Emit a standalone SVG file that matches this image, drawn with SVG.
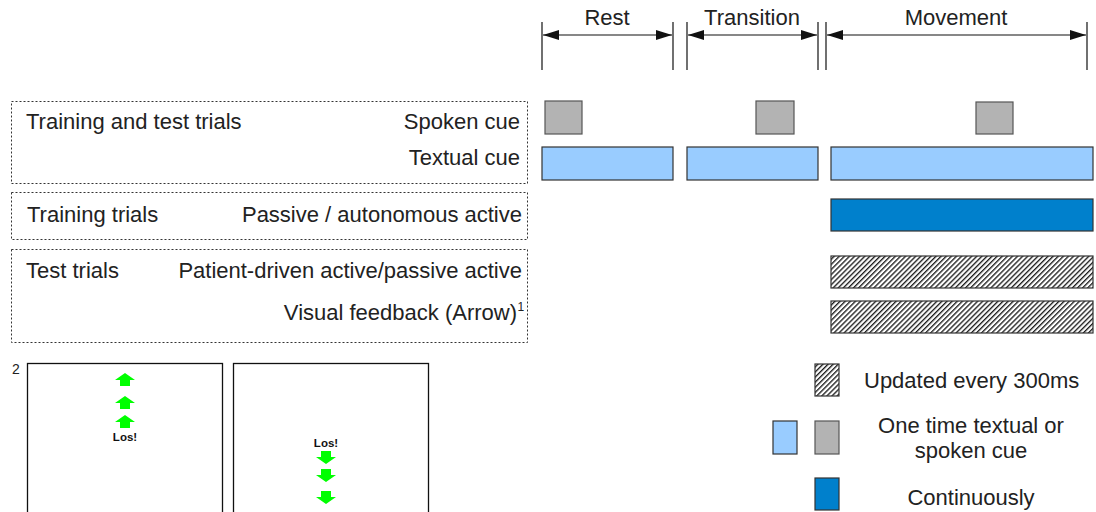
<svg xmlns="http://www.w3.org/2000/svg" width="1096" height="512" viewBox="0 0 1096 512">
<style>
  text { font-family: "Liberation Sans", Arial, sans-serif; font-size: 22px; fill: #222; }
  .r { text-anchor: end; }
  .m { text-anchor: middle; }
  .box { fill: none; stroke: #333; stroke-width: 1; stroke-dasharray: 2 2; }
  .tick { stroke: #111; stroke-width: 1.2; }
  .dim { stroke: #111; stroke-width: 1.2; marker-start: url(#ah); marker-end: url(#ah); }
  .gray { fill: #b3b3b3; stroke: #555; stroke-width: 1.2; }
  .lb { fill: #99ccff; stroke: #333; stroke-width: 1.2; }
  .db { fill: #0080cc; stroke: #333; stroke-width: 1.2; }
  .hat { fill: url(#hatch); stroke: #333; stroke-width: 1.2; }
  .frame { fill: #fff; stroke: #111; stroke-width: 1.3; }
  .grn { fill: #00ff00; }
  .los { font-size: 11.5px; font-weight: bold; fill: #111; text-anchor: middle; }
</style>
<defs>
  <marker id="ah" viewBox="0 0 16 10" refX="16" refY="5" markerWidth="16" markerHeight="10" markerUnits="userSpaceOnUse" orient="auto-start-reverse">
    <path d="M0,0 L16,5 L0,10 Z" fill="#111"/>
  </marker>
  <pattern id="hatch" patternUnits="userSpaceOnUse" width="3.6" height="3.6" patternTransform="rotate(45)">
    <rect width="3.6" height="3.6" fill="#fff"/>
    <line x1="0.7" y1="0" x2="0.7" y2="3.6" stroke="#000" stroke-width="1.2"/>
  </pattern>
  <path id="up" d="M0,0 L10,7 L5,7 L5,13 L-5,13 L-5,7 L-10,7 Z"/>
  <path id="down" d="M0,13 L10,6 L5,6 L5,0 L-5,0 L-5,6 L-10,6 Z"/>
</defs>

<g id="timeline-header">
  <text class="m" x="607" y="24.5">Rest</text>
  <text class="m" x="752" y="24.5">Transition</text>
  <text class="m" x="956" y="24.5">Movement</text>
</g>

<g id="connectors">
  <line class="tick" x1="542" y1="22" x2="542" y2="70"/>
  <line class="tick" x1="673" y1="22" x2="673" y2="70"/>
  <line class="tick" x1="687" y1="22" x2="687" y2="70"/>
  <line class="tick" x1="818" y1="22" x2="818" y2="70"/>
  <line class="tick" x1="826" y1="22" x2="826" y2="70"/>
  <line class="tick" x1="1087" y1="22" x2="1087" y2="70"/>
  <line class="dim" x1="543" y1="35" x2="672" y2="35"/>
  <line class="dim" x1="688" y1="35" x2="817" y2="35"/>
  <line class="dim" x1="827" y1="35" x2="1086" y2="35"/>
</g>

<g id="group-training-and-test">
  <rect class="box" x="11.5" y="101.5" width="516" height="82"/>
  <text x="26" y="128.5">Training and test trials</text>
  <text class="r" x="520" y="128.5">Spoken cue</text>
  <text class="r" x="520" y="164.5">Textual cue</text>
</g>

<g id="group-training">
  <rect class="box" x="11.5" y="192.5" width="516" height="47"/>
  <text x="27" y="221.5">Training trials</text>
  <text class="r" x="522" y="221.5">Passive / autonomous active</text>
</g>

<g id="group-test">
  <rect class="box" x="11.5" y="249.5" width="516" height="93"/>
  <text x="26" y="277.5">Test trials</text>
  <text class="r" x="522" y="277.5">Patient-driven active/passive active</text>
  <text class="r" x="517" y="319.5">Visual feedback (Arrow)</text>
  <text x="517.5" y="311" style="font-size:12px">1</text>
</g>

<g id="spoken-cues">
  <rect class="gray" x="545" y="101" width="37" height="33"/>
  <rect class="gray" x="756" y="101" width="38" height="33"/>
  <rect class="gray" x="976" y="102" width="37" height="32"/>
</g>

<g id="textual-cues">
  <rect class="lb" x="542" y="147" width="131" height="33"/>
  <rect class="lb" x="687" y="147" width="131" height="33"/>
  <rect class="lb" x="831" y="147" width="262" height="33"/>
</g>

<g id="passive-active">
  <rect class="db" x="831" y="199" width="262" height="32"/>
</g>

<g id="patient-driven">
  <rect class="hat" x="831" y="256" width="262" height="32"/>
</g>

<g id="visual-feedback">
  <rect class="hat" x="831" y="301" width="262" height="32"/>
</g>

<g id="screens">
  <text x="12" y="374" style="font-size:14px">2</text>
  <rect class="frame" x="27.5" y="363.5" width="195" height="160"/>
  <use href="#up" class="grn" x="125" y="373"/>
  <use href="#up" class="grn" x="125" y="396"/>
  <use href="#up" class="grn" x="125" y="415"/>
  <text class="los" x="125" y="441">Los!</text>
  <rect class="frame" x="233.5" y="363.5" width="195" height="160"/>
  <text class="los" x="326" y="447">Los!</text>
  <use href="#down" class="grn" x="326" y="451"/>
  <use href="#down" class="grn" x="326" y="469"/>
  <use href="#down" class="grn" x="326" y="491"/>
</g>

<g id="legend">
  <rect class="hat" x="815" y="364" width="24" height="32"/>
  <text x="864" y="387.5">Updated every 300ms</text>
  <rect class="lb" x="773" y="421" width="24" height="33"/>
  <rect class="gray" x="815" y="421" width="24" height="33"/>
  <text class="m" x="971" y="433">One time textual or</text>
  <text class="m" x="971" y="458">spoken cue</text>
  <rect class="db" x="815" y="478" width="24" height="32"/>
  <text class="m" x="971" y="504.5">Continuously</text>
</g>
</svg>
